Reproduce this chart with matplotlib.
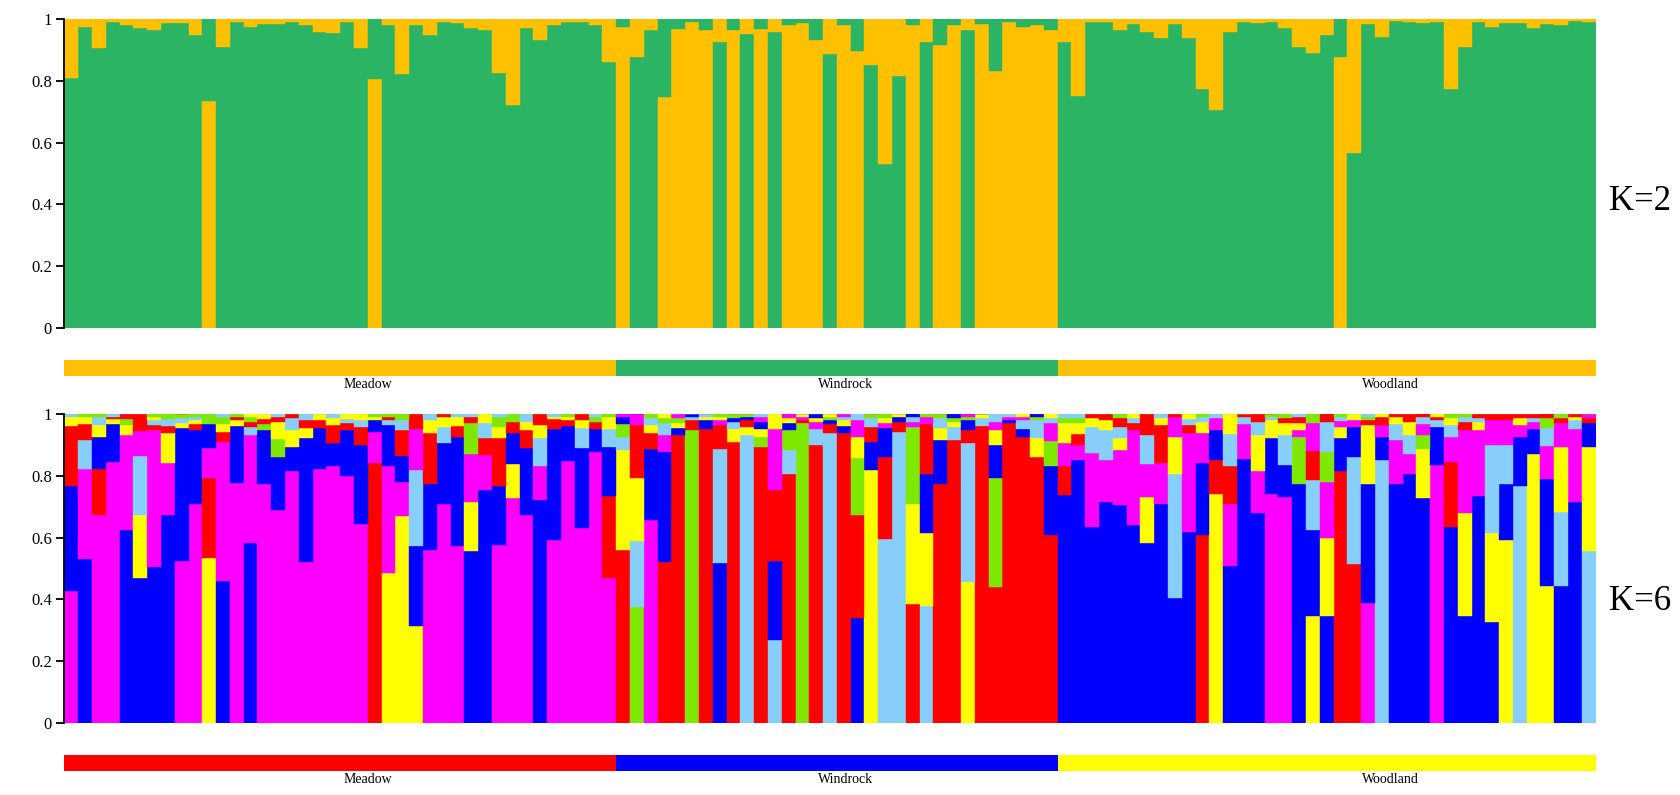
import numpy as np
import matplotlib
matplotlib.use("Agg")
import matplotlib.pyplot as plt

plt.rcParams['font.family'] = ['Liberation Serif', 'DejaVu Serif']

# populations (individuals are ordered by population)
populations = ["Meadow", "Windrock", "Woodland"]
pop_sizes = [40, 32, 39]
pop_label_pos = [22.0, 56.6, 96.1]

# K=2 : proportion of the green cluster, the rest is the orange cluster
k2_green = [
    .811, .976, .906, .99, .982, .971, .965, .987, .987, .948,
    .264, .911, .99, .976, .985, .985, .99, .982, .96, .955,
    .99, .906, .195, .982, .822, .982, .948, .99, .987, .971,
    .965, .827, .722, .971, .933, .982, .99, .99, .98, .863,
    .024, .879, .965, .253, .03, .01, .035, .927, .035, .952,
    .03, .96, .018, .012, .067, .886, .018, .103, .852, .53,
    .816, .018, .927, .083, .018, .965, .014, .168, .01, .024,
    .02, .035,
    .926, .752, .99, .99, .965, .985, .96, .938, .985, .938,
    .774, .706, .958, .99, .987, .99, .971, .911, .89, .948,
    .121, .565, .985, .944, .995, .99, .987, .99, .775, .911,
    .99, .976, .987, .987, .971, .985, .982, .995, .99,
]
k2_orange = [1 - g for g in k2_green]

# K=6 cluster memberships
k6_red = [
    .195, .05, .148, .008, .016, .054, .016, .025, 0, .022,
    .259, .032, .011, .016, .016, .016, .013, .027, .027, .059,
    .022, .057, .843, .011, .084, .046, .164, .01, .036, .019,
    .054, .153, .038, .059, .035, .03, .018, .018, .022, .268,
    .562, .171, .049, .52, .933, .032, .955, .076, .911, .022,
    .895, .23, .805, .011, .9, .032, .938, .335, .049, .268,
    .032, .384, .165, .774, .917, .043, .963, .439, .971, .928,
    .863, .609,
    .094, .036, .013, .018, .029, .022, .067, .124, .008, .027,
    .609, .111, .123, .008, .024, 0, .018, .018, .092, .024,
    .816, .514, .016, .027, .008, .024, .008, .011, .211, .027,
    .011, .018, .018, .013, .011, .013, .016, .008, .016,
]
k6_blue = [
    .341, .533, .106, .122, .625, .468, .504, .674, .429, .24,
    .079, .461, .184, .584, .176, .17, .079, .402, .133, .074,
    .149, .257, .038, .133, .085, .259, .216, .199, .355, .558,
    .752, .192, .1, .216, .717, .362, .115, .259, .076, .159,
    .022, 0, .232, .359, .022, .008, .027, .519, .013, .011,
    .022, .256, .022, 0, .011, .011, .025, .338, .092, .092,
    .016, .008, .191, .143, .011, .032, 0, .106, .011, .027,
    .008, .224,
    .738, .852, .636, .715, .706, .641, .584, .709, .406, .619,
    .232, .097, .508, .857, .679, .182, .103, .774, .279, .346,
    .106, .097, .385, .076, .774, .805, .73, .122, .636, .347,
    .736, .325, .182, .159, .084, .346, .444, .715, .076,
]
k6_magenta = [
    .428, .289, .674, .846, .308, .081, .445, .168, .525, .709,
    .097, .451, .779, .349, .773, .69, .816, .52, .822, .832,
    .8, .643, .1, .346, .111, .133, .558, .709, .573, .154,
    .116, .576, .73, .674, .11, .592, .849, .63, .879, .468,
    .008, .035, .657, .054, .013, 0, 0, .016, 0, 0,
    .016, .195, .013, .01, .022, 0, .008, .054, 0, .016,
    0, .016, .022, 0, 0, .007, 0, .027, .01, .011,
    0, .059,
    .074, .049, .238, .137, .178, .308, .107, .132, .065, .319,
    .097, .038, .201, .114, .137, .741, .733, .022, .09, .182,
    .018, .022, .389, .038, .143, .066, .036, .838, .081, .27,
    .213, .081, .081, .038, .022, .105, .076, .24, .013,
]
k6_yellow = [
    .027, .024, .038, .016, .032, .205, .011, .097, .016, .011,
    .533, .025, .018, .008, .016, .055, .054, .032, .018, .024,
    .014, .018, .011, .486, .668, .311, .043, .03, .027, .159,
    .027, .038, .108, .027, .04, .008, .011, .027, 0, .038,
    .322, .205, .027, .013, .016, 0, .011, .011, .043, .027,
    .027, .049, .016, .008, .013, .008, .018, .068, .819, .016,
    .008, .325, .235, .038, .016, .455, .013, .049, 0, .008,
    .059, .013,
    .065, .035, .027, .032, .038, .011, .147, .022, .122, .016,
    .038, .741, .065, 0, .117, .059, .038, .022, .346, .252,
    .038, .018, .191, .008, .022, .043, .16, .008, .024, .332,
    .027, .289, .592, .022, .87, .444, .211, .011, .338,
]
k6_lightblue = [
    .01, .097, .027, .008, 0, .189, .016, .022, .016, .011,
    0, .008, 0, .027, 0, .008, .038, .018, 0, .011,
    .015, .024, 0, .016, .032, .245, .018, .052, .01, .01,
    .049, .008, 0, .024, .09, .008, 0, .065, .008, .059,
    .045, .213, .022, .038, 0, .011, .008, .371, .022, .933,
    .008, .268, .079, 0, .054, .938, .011, .018, .027, .595,
    .944, .016, .379, .032, .043, .452, .024, .024, .008, .027,
    .059, .016,
    .011, .013, .086, .097, .038, .018, .095, .013, .399, .018,
    .016, .013, .103, .022, .043, .011, .097, .01, .162, .097,
    .014, .349, .008, .852, .054, .062, .022, .022, .038, .016,
    .013, .286, .126, .769, .013, .059, .24, .027, .557,
]
k6_green = [
    0, .008, .008, 0, .018, 0, .008, .015, .013, .008,
    .031, .024, .008, .016, .018, .06, 0, 0, 0, 0,
    0, 0, .008, .008, .018, 0, 0, 0, 0, .1,
    0, .032, .024, 0, 0, 0, .008, 0, .016, .008,
    .042, .376, .013, .016, .016, .949, 0, .008, .011, .008,
    .032, 0, .065, .971, 0, .011, 0, .186, .013, .013,
    0, .251, .008, .013, .013, .011, 0, .356, 0, 0,
    .011, .079,
    .018, .016, 0, 0, .011, 0, 0, 0, 0, 0,
    .008, 0, 0, 0, 0, .008, .011, .154, .029, .099,
    .008, 0, .011, 0, 0, 0, .045, 0, .011, .008,
    0, 0, 0, 0, 0, .032, .013, 0, 0,
]

k2_colors = ['#2ab464', '#ffc000']
k6_colors = ['#ff0000', '#0000ff', '#ff00ff', '#ffff00', '#87cefa', '#7fe800']
k2_pop_colors = ['#ffc000', '#2ab464', '#ffc000']
k6_pop_colors = ['#ff0000', '#0000ff', '#ffff00']


def structure_panel(ax, clusters, colors):
    q = np.array(clusters, dtype=float)
    q = q / q.sum(axis=0)
    n = q.shape[1]
    x = np.arange(n)
    # largest membership at the bottom of each bar
    order = np.argsort(-q, axis=0, kind='stable')
    bottom = np.zeros(n)
    for r in range(q.shape[0]):
        idx = order[r]
        h = q[idx, x]
        cols = [colors[k] for k in idx]
        ax.bar(x, h, bottom=bottom, width=1.0, align='edge', color=cols,
               edgecolor=cols, linewidth=0.3)
        bottom += h
    ax.set_xlim(0, n)
    ax.set_ylim(0, 1)
    ax.set_xticks([])
    ax.set_yticks([0, 0.2, 0.4, 0.6, 0.8, 1])
    ax.set_yticklabels(['0', '0.2', '0.4', '0.6', '0.8', '1'])
    ax.tick_params(axis='y', length=6, width=1.3, labelsize=12, pad=3)
    for s in ['top', 'right', 'bottom']:
        ax.spines[s].set_visible(False)
    ax.spines['left'].set_linewidth(1.3)


def pop_strip(ax, colors):
    start = 0
    for size, c in zip(pop_sizes, colors):
        ax.barh(0, size, left=start, height=1, color=c, linewidth=0)
        start += size
    ax.set_xlim(0, sum(pop_sizes))
    ax.set_ylim(-0.5, 0.5)
    ax.axis('off')
    for name, xp in zip(populations, pop_label_pos):
        ax.text(xp, -0.62, name, ha='center', va='top', fontsize=10)


fig = plt.figure(figsize=(16.8, 7.95), dpi=100)
left, width = 0.0383, 0.9115

ax1 = fig.add_axes([left, 0.5878, width, 0.3879])
structure_panel(ax1, [k2_green, k2_orange], k2_colors)
strip1 = fig.add_axes([left, 0.527, width, 0.0201])
pop_strip(strip1, k2_pop_colors)

ax2 = fig.add_axes([left, 0.0909, width, 0.3879])
structure_panel(ax2, [k6_red, k6_blue, k6_magenta, k6_yellow, k6_lightblue, k6_green], k6_colors)
strip2 = fig.add_axes([left, 0.0302, width, 0.0201])
pop_strip(strip2, k6_pop_colors)

fig.text(0.958, 0.747, 'K=2', ha='left', va='center', fontsize=25)
fig.text(0.958, 0.244, 'K=6', ha='left', va='center', fontsize=25)

fig.savefig('out.png', dpi=100)
